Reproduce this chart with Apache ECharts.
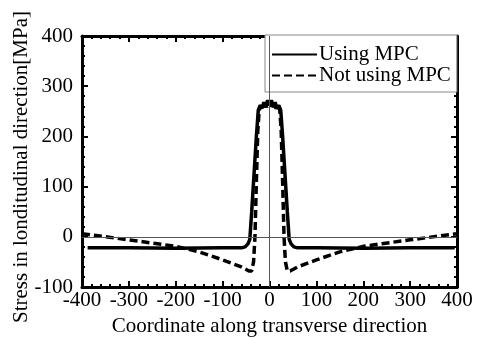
<!DOCTYPE html>
<html>
<head>
<meta charset="utf-8">
<script src="https://cdn.jsdelivr.net/npm/echarts@6/dist/echarts.min.js"></script>
<style>
  html, body { margin: 0; padding: 0; background: #fff; }
  #chart { width: 481px; height: 338px; }
</style>
</head>
<body>
<div id="chart"></div>
<script>
// Using MPC (solid)
const solidX = [-388, -300, -200, -100, -60, -52, -46, -42, -38, -33, -28, -24, -20, -16, -12, -8, -4, 0, 4, 8, 12, 16, 20, 24, 28, 33, 38, 42, 46, 52, 60, 100, 200, 300, 395];
const solidY = [-22, -22, -23, -22, -22, -20, -14, -5, 50, 125, 200, 252, 262, 256, 268, 258, 272, 262, 272, 258, 268, 256, 262, 252, 200, 125, 50, -5, -14, -20, -22, -22, -23, -22, -22];
// Not using MPC (dashed)
const dashX = [-400, -300, -200, -150, -100, -60, -44, -38, -34, -31, -28, -25, -22, -18, -14, -10, -6, -2, 2, 6, 10, 14, 18, 22, 25, 28, 31, 34, 38, 44, 60, 100, 150, 200, 300, 400];
const dashY = [6, -6, -19, -30, -46, -60, -68, -68, -50, 0, 110, 210, 252, 262, 255, 266, 258, 270, 270, 258, 266, 255, 262, 252, 210, 110, 0, -50, -68, -68, -60, -46, -30, -19, -6, 6];
const seriesNames = ["Using MPC", "Not using MPC"];
const yTitle = "Stress in londitudinal direction[MPa]";

const font = "Liberation Serif";
const zip = (xs, ys) => xs.map((x, i) => [x, ys[i]]);

const chart = echarts.init(document.getElementById("chart"));

const axisBase = {
  type: "value",
  axisLine: { show: true, onZero: false, lineStyle: { color: "#000", width: 3 } },
  axisTick: { show: true, inside: true, length: 6, lineStyle: { color: "#000", width: 2 } },
  minorTick: { show: true, splitNumber: 5, length: 3, lineStyle: { color: "#000", width: 2 } },
  splitLine: { show: false },
};

const option = {
  animation: false,
  grid: { left: 82, right: 24, top: 36, bottom: 51, outerBoundsMode: "none" },
  // y axis title placed by hand (axis name ignored nameGap here)
  graphic: [
    {
      type: "text",
      x: 21,
      y: 167,
      rotation: Math.PI / 2,
      style: {
        text: yTitle,
        font: "21px 'Liberation Serif'",
        fill: "#000",
        align: "center",
        verticalAlign: "middle",
      },
    },
  ],
  legend: {
    left: 265,
    top: 35,
    orient: "vertical",
    itemWidth: 45,
    itemHeight: 14,
    itemGap: 0,
    padding: [9, 6, 6, 6],
    borderColor: "#888",
    borderWidth: 1,
    backgroundColor: "#fff",
    itemStyle: { opacity: 0 },
    textStyle: { fontFamily: font, fontSize: 21, color: "#000", padding: [0, 0, 0, -3] },
    data: seriesNames,
  },
  xAxis: [
    Object.assign({}, axisBase, {
      min: -400, max: 400, interval: 100, position: "bottom",
      axisLabel: { fontFamily: font, fontSize: 21, color: "#000", margin: 3 },
      name: "Coordinate along transverse direction",
      nameLocation: "middle",
      nameGap: 27,
      nameTextStyle: { fontFamily: font, fontSize: 21, color: "#000" },
    }),
    Object.assign({}, axisBase, {
      min: -400, max: 400, interval: 100, position: "top",
      axisLabel: { show: false },
    }),
  ],
  yAxis: [
    Object.assign({}, axisBase, {
      min: -100, max: 400, interval: 100, position: "left",
      axisLabel: { fontFamily: font, fontSize: 21, color: "#000", margin: 9 },
    }),
    Object.assign({}, axisBase, {
      min: -100, max: 400, interval: 100, position: "right",
      axisLabel: { show: false },
    }),
  ],
  series: [
    {
      name: seriesNames[0],
      type: "line",
      symbol: "none",
      data: zip(solidX, solidY),
      lineStyle: { color: "#000", width: 3.5, type: "solid" },
      itemStyle: { color: "#000" },
      markLine: {
        silent: true,
        symbol: "none",
        label: { show: false },
        lineStyle: { color: "#555", width: 1, type: "solid" },
        data: [{ yAxis: 0 }, { xAxis: 0 }],
      },
    },
    {
      name: seriesNames[1],
      type: "line",
      symbol: "none",
      data: zip(dashX, dashY),
      lineStyle: { color: "#000", width: 3.5, type: [8, 4] },
      itemStyle: { color: "#000" },
    },
  ],
};

chart.setOption(option);
</script>
</body>
</html>
